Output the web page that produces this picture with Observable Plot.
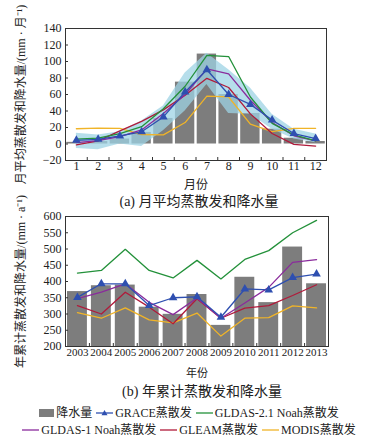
<!DOCTYPE html>
<html><head><meta charset="utf-8">
<script src="https://cdn.jsdelivr.net/npm/d3@7"></script>
<script src="https://cdn.jsdelivr.net/npm/@observablehq/plot@0.6"></script>
<style>
body{margin:0;background:#fff;}
#root{position:relative;width:372px;height:444px;overflow:hidden;font-family:"Liberation Serif","Times New Roman","Noto Sans CJK SC",serif;color:#222;background:#fff;}
.title{position:absolute;width:372px;text-align:center;font-size:14px;line-height:18px;white-space:nowrap;}
.legend{position:absolute;width:372px;display:flex;justify-content:center;align-items:center;font-size:12px;line-height:16px;white-space:nowrap;}
.item{display:flex;align-items:center;margin:0 2px;}
.item svg{margin-right:2px;}
</style>
</head><body>
<div id="root">
  <div id="chartA" style="position:absolute;left:0;top:0"></div>
  <div class="title" style="top:193px;left:13px">(a) 月平均蒸散发和降水量</div>
  <div id="chartB" style="position:absolute;left:0;top:188px"></div>
  <div class="title" style="top:383px;left:16px">(b) 年累计蒸散发和降水量</div>
  <div class="legend" id="leg1" style="top:405px;left:3px"></div>
  <div class="legend" id="leg2" style="top:422px;left:3px"></div>
</div>
<script>
// ---- data: (a) monthly means ----
const months = [1,2,3,4,5,6,7,8,9,10,11,12];
const precipMonthly = [2,3,6,14,31,75,109,60,37,18,7,3];
const graceMonthly = [4.5,5.7,9.8,14.8,32.8,63,90,60,48,29,12.7,6.6];
const gldas21Monthly = [6,7,12.7,21,42.7,70,107.5,106,57,25,11,3.7];
const gldas1Monthly = [1.6,4,9,17,37,60,91,85,53,26,10,3.7];
const gleamMonthly = [-1,3.7,16,27.5,41.4,59,79.6,68.5,36.5,12.7,-0.4,-2.5];
const modisMonthly = [18.5,19.3,19,11.5,11,26,58,57,24,15,19,19];
const bandLowMonthly = [-5.5,-7,0,-3,16,40,72,37,36,18,6,1.5];
const bandHighMonthly = [13,11,15,28,46,86,110,90,68,36,18,12];
const yTicksA = [-20,0,20,40,60,80,100,120,140];

// ---- data: (b) annual totals ----
const years = [2003,2004,2005,2006,2007,2008,2009,2010,2011,2012,2013];
const precipAnnual = [369,387,389,321,299,360,265,413,335,506,393];
const graceAnnual = [351,393,393,326,350,353,290,377,374,412,423];
const gldas21Annual = [426,434,499,434,411,465,408,468,495,550,588];
const gldas1Annual = [347,367,393,336,298,349,287,334,382,459,467];
const gleamAnnual = [326,300,367,321,270,347,287,318,326,357,390];
const modisAnnual = [304,287,319,282,273,303,232,287,289,325,319];
const yTicksB = [200,250,300,350,400,450,500,550,600];

const labelsA = {x: "月份", y: "月平均蒸散发和降水量/(mm · 月⁻¹)"};
const labelsB = {x: "年份", y: "年累计蒸散发和降水量/(mm · a⁻¹)"};

const C = {bar:"#7d7d7d", band:"#9dd3e4", grace:"#2e4fb0", gldas21:"#23913a", gldas1:"#8a2b9c", gleam:"#b01a3a", modis:"#f0b428"};
const FONT = '"Liberation Serif","Times New Roman","Noto Sans CJK SC",serif';

function seriesMarks(xs, list) {
  return list.map(([vals, color]) => Plot.lineY(vals, {x: xs, stroke: color, strokeWidth: 1.3}));
}

// ---- chart (a) ----
const halfMonths = months.slice(0, -1).map(m => m + 0.5);
const chartA = Plot.plot({
  width: 372, height: 192,
  marginTop: 28, marginBottom: 32, marginLeft: 65, marginRight: 46,
  style: {fontFamily: FONT, fontSize: "12px", color: "#222", background: "transparent"},
  x: {domain: [months[0] - 0.5, months[months.length - 1] + 0.5]},
  y: {domain: [yTicksA[0], yTicksA[yTicksA.length - 1]]},
  marks: [
    Plot.rectY(precipMonthly, {x1: months.map(m => m - 0.5), x2: months.map(m => m + 0.5), y1: 0, y2: d => d, insetLeft: 1.2, insetRight: 1.2, fill: C.bar}),
    Plot.areaY(months, {x: months, y1: bandLowMonthly, y2: bandHighMonthly, fill: C.band, fillOpacity: 0.75}),
    ...seriesMarks(months, [[modisMonthly, C.modis], [gleamMonthly, C.gleam], [gldas1Monthly, C.gldas1], [gldas21Monthly, C.gldas21], [graceMonthly, C.grace]]),
    Plot.dot(graceMonthly, {x: months, y: d => d, symbol: "triangle", r: 3.2, fill: C.grace}),
    Plot.frame({stroke: "#333"}),
    Plot.axisY({ticks: yTicksA, tickSize: -3, fill: "none", stroke: "#333"}),
    Plot.axisY({ticks: yTicksA, tickSize: 0, tickPadding: 4, label: labelsA.y, labelAnchor: "center", labelArrow: "none", labelOffset: 49}),
    Plot.axisX({ticks: halfMonths, tickSize: -3, fill: "none", stroke: "#333"}),
    Plot.axisX({ticks: months, tickSize: 0, tickPadding: 1, tickFormat: "d", label: labelsA.x, labelAnchor: "center", labelArrow: "none", labelOffset: 28})
  ]
});
document.getElementById("chartA").append(chartA);

// ---- chart (b) ----
const halfYears = years.slice(0, -1).map(y => y + 0.5);
const chartB = Plot.plot({
  width: 372, height: 192,
  marginTop: 28, marginBottom: 34, marginLeft: 65, marginRight: 44,
  style: {fontFamily: FONT, fontSize: "12px", color: "#222", background: "transparent"},
  x: {domain: [years[0] - 0.5, years[years.length - 1] + 0.5]},
  y: {domain: [yTicksB[0], yTicksB[yTicksB.length - 1]]},
  marks: [
    Plot.rectY(precipAnnual, {x1: years.map(y => y - 0.5), x2: years.map(y => y + 0.5), y1: yTicksB[0], y2: d => d, insetLeft: 2, insetRight: 2, fill: C.bar}),
    ...seriesMarks(years, [[modisAnnual, C.modis], [gleamAnnual, C.gleam], [gldas1Annual, C.gldas1], [gldas21Annual, C.gldas21], [graceAnnual, C.grace]]),
    Plot.dot(graceAnnual, {x: years, y: d => d, symbol: "triangle", r: 3.2, fill: C.grace}),
    Plot.frame({stroke: "#333"}),
    Plot.axisY({ticks: yTicksB, tickSize: -3, fill: "none", stroke: "#333"}),
    Plot.axisY({ticks: yTicksB, tickSize: 0, tickPadding: 4, label: labelsB.y, labelAnchor: "center", labelArrow: "none", labelOffset: 49}),
    Plot.axisX({ticks: halfYears, tickSize: -3, fill: "none", stroke: "#333"}),
    Plot.axisX({ticks: years, tickSize: 0, tickPadding: 2, tickFormat: "d", fontSize: 11, label: labelsB.x, labelAnchor: "center", labelArrow: "none", labelOffset: 30})
  ]
});
document.getElementById("chartB").append(chartB);

// ---- legend ----
const legendRows = [
  [["降水量", "bar", C.bar], ["GRACE蒸散发", "tri", C.grace], ["GLDAS-2.1 Noah蒸散发", "line", C.gldas21]],
  [["GLDAS-1 Noah蒸散发", "line", C.gldas1], ["GLEAM蒸散发", "line", C.gleam], ["MODIS蒸散发", "line", C.modis]]
];
function swatch(kind, color) {
  if (kind === "bar") return `<svg width="15" height="12"><rect x="0" y="2" width="15" height="8" fill="${color}"/></svg>`;
  let s = `<svg width="17" height="12"><line x1="0" x2="17" y1="6" y2="6" stroke="${color}" stroke-width="1.3"/>`;
  if (kind === "tri") s += `<path d="M8.5,3 L11.5,8.2 L5.5,8.2 Z" fill="${color}"/>`;
  return s + `</svg>`;
}
legendRows.forEach((row, i) => {
  const el = document.getElementById("leg" + (i + 1));
  el.innerHTML = row.map(([t, k, c]) => `<span class="item">${swatch(k, c)}<span>${t}</span></span>`).join("");
});
</script>
</body></html>
